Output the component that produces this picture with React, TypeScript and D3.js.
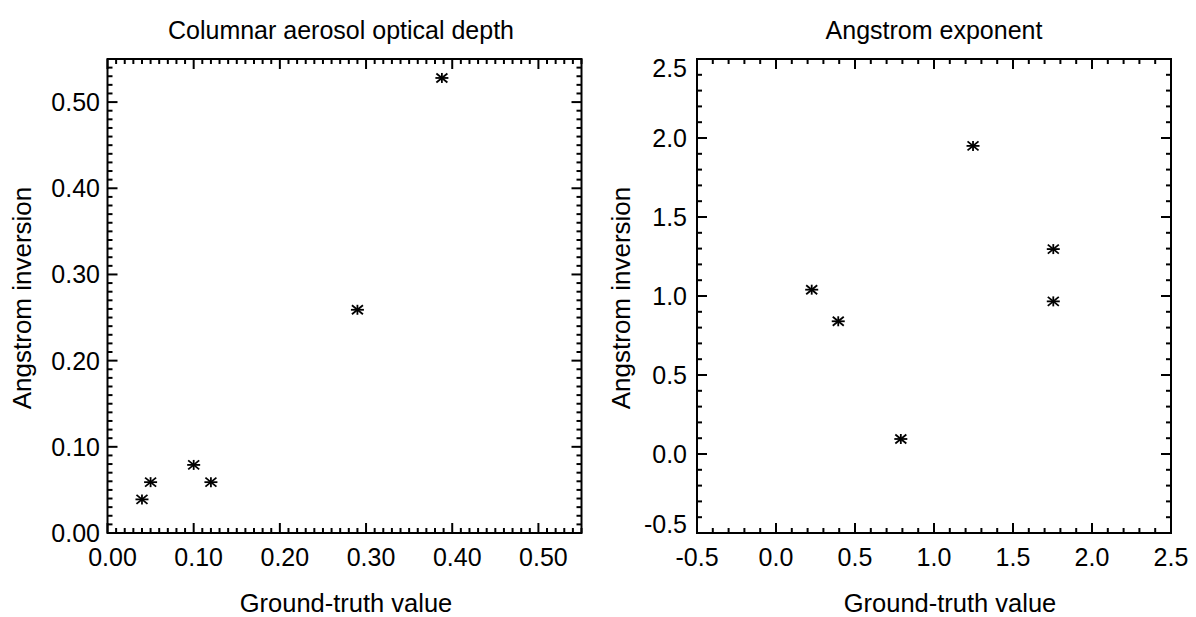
import React from "react";
import * as d3 from "d3";

// Columnar aerosol optical depth panel
const aodTruth = [0.040, 0.050, 0.100, 0.120, 0.290, 0.388];
const aodRetrieved = [0.039, 0.059, 0.079, 0.059, 0.259, 0.528];
const aodTicks = ["0.00", "0.10", "0.20", "0.30", "0.40", "0.50"];

// Angstrom exponent panel
const angTruth = [0.226, 0.394, 0.79, 1.247, 1.755, 1.755];
const angRetrieved = [1.04, 0.84, 0.095, 1.95, 1.297, 0.966];
const angTicks = ["-0.5", "0.0", "0.5", "1.0", "1.5", "2.0", "2.5"];

const FONT = "'Liberation Sans', Arial, Helvetica, sans-serif";
const TOP = 59;
const BOTTOM = 533;
const FS = 25;

const Star = ({ x, y }) => (
  <g transform={`translate(${x},${y})`} stroke="#000" strokeWidth={1.8}>
    <line x1={-6.5} y1={0} x2={6.5} y2={0} />
    <line x1={0} y1={-5} x2={0} y2={5} />
    <line x1={-5.5} y1={-4.5} x2={5.5} y2={4.5} />
    <line x1={-5.5} y1={4.5} x2={5.5} y2={-4.5} />
  </g>
);

const Panel = props => {
  const { left, right, domain, ticks, minor, xs, ys, title, labelGap, ylabelX, clampEnds, xShift, titleX, xlabelX } = props;
  const x = d3.scaleLinear().domain(domain).range([left, right]);
  const y = d3.scaleLinear().domain(domain).range([BOTTOM, TOP]);
  const majors = ticks.map(t => +t);
  const minors = d3.range(domain[0], domain[1] + 1e-9, minor).map(v => +v.toFixed(4));
  const isMajor = v => majors.some(m => Math.abs(m - v) < 1e-6);
  // end labels kept inside the frame on the right panel
  const yLabelPos = v => {
    if (clampEnds && v === domain[1]) return { y: TOP, dy: "0.72em" };
    if (clampEnds && v === domain[0]) return { y: BOTTOM, dy: "0em" };
    return { y: y(v), dy: "0.36em" };
  };
  return (
    <g fontFamily={FONT} fill="#000">
      {minors.map((v, i) => {
        const len = isMajor(v) ? 10 : 5;
        return (
          <g key={i} stroke="#000" strokeWidth={2}>
            <line x1={x(v)} x2={x(v)} y1={BOTTOM} y2={BOTTOM - len} />
            <line x1={x(v)} x2={x(v)} y1={TOP} y2={TOP + len} />
            <line x1={left} x2={left + len} y1={y(v)} y2={y(v)} />
            <line x1={right} x2={right - len} y1={y(v)} y2={y(v)} />
          </g>
        );
      })}
      <rect x={left} y={TOP} width={right - left} height={BOTTOM - TOP} fill="none" stroke="#000" strokeWidth={2} />
      {ticks.map((t, i) => (
        <text key={"x" + i} x={x(+t) + xShift} y={566} textAnchor="middle" fontSize={FS}>{t}</text>
      ))}
      {ticks.map((t, i) => {
        const p = yLabelPos(+t);
        return (
          <text key={"y" + i} x={left - labelGap} y={p.y} dy={p.dy} textAnchor="end" fontSize={FS}>{t}</text>
        );
      })}
      {xs.map((v, i) => (
        <Star key={"p" + i} x={x(v)} y={y(ys[i])} />
      ))}
      <text x={titleX} y={39} textAnchor="middle" fontSize={FS}>{title}</text>
      <text x={xlabelX} y={612} textAnchor="middle" fontSize={25.5}>Ground-truth value</text>
      <text transform={`translate(${ylabelX},298) rotate(-90)`} textAnchor="middle" fontSize={26}>Angstrom inversion</text>
    </g>
  );
};

const App = () => (
  <svg width={1196} height={617} style={{ position: "absolute", left: 0, top: 0, background: "#fff" }}>
    <rect width={1196} height={617} fill="#fff" />
    <Panel
      left={107.5}
      right={581.5}
      domain={[0, 0.55]}
      ticks={aodTicks}
      minor={0.01}
      xs={aodTruth}
      ys={aodRetrieved}
      title="Columnar aerosol optical depth"
      labelGap={7.5}
      ylabelX={31}
      clampEnds={false}
      xShift={5}
      titleX={341}
      xlabelX={346}
    />
    <Panel
      left={697}
      right={1171}
      domain={[-0.5, 2.5]}
      ticks={angTicks}
      minor={0.1}
      xs={angTruth}
      ys={angRetrieved}
      title="Angstrom exponent"
      labelGap={10}
      ylabelX={630}
      clampEnds={true}
      xShift={0}
      titleX={934}
      xlabelX={950}
    />
  </svg>
);

export default App;
